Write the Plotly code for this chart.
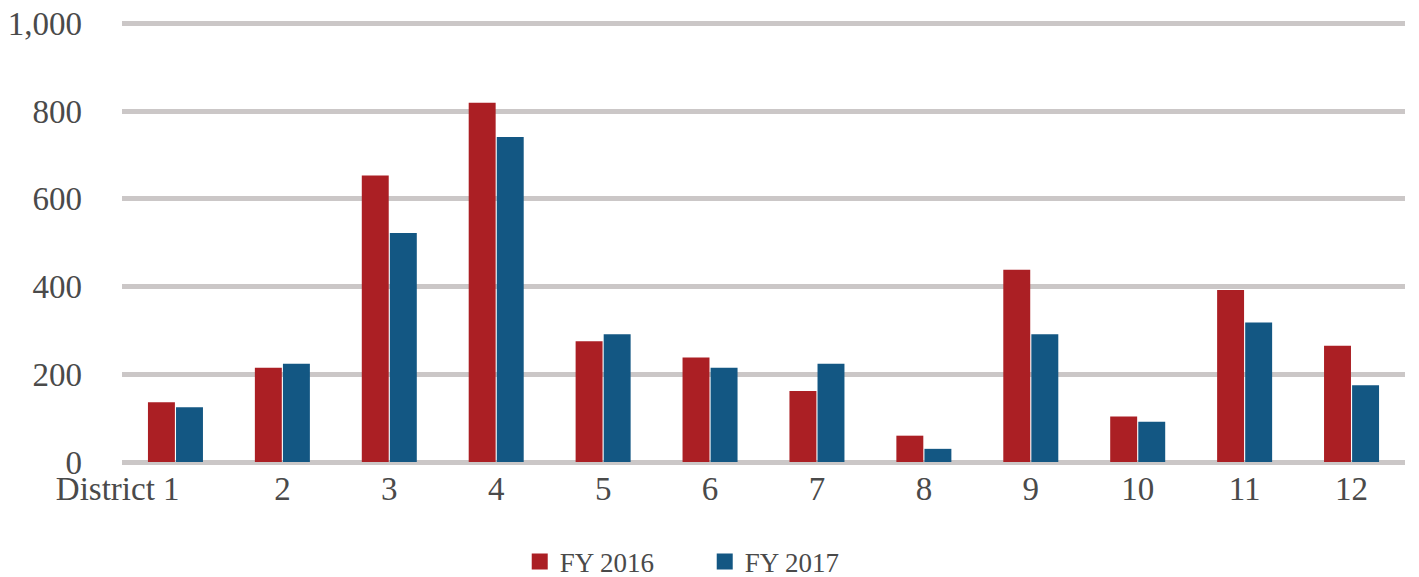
import plotly.graph_objects as go

# districts and yearly counts
districts = ["District 1", "2", "3", "4", "5", "6", "7", "8", "9", "10", "11", "12"]
fy2016 = [136, 215, 653, 819, 275, 238, 162, 60, 438, 104, 392, 265]
fy2017 = [125, 224, 522, 741, 291, 215, 224, 30, 291, 92, 318, 175]
yticks = [0, 200, 400, 600, 800, 1000]

font_fam = "Liberation Serif"
grid_col = "#CBC7C7"
red = "#AB1F24"
blue = "#135783"

# first label sits left of its category in the original, pad it with nbsp
ticktext = ["District 1" + "\u00a0" * 14] + districts[1:]

fig = go.Figure()
fig.add_trace(go.Bar(x=districts, y=fy2016, name="FY 2016", showlegend=False,
                     marker=dict(color=red, line=dict(width=0))))
fig.add_trace(go.Bar(x=districts, y=fy2017, name="FY 2017", showlegend=False,
                     marker=dict(color=blue, line=dict(width=0))))

# legend entries with bigger squares
for nm, col in [("FY 2016", red), ("FY 2017", blue)]:
    fig.add_trace(go.Scatter(x=[None], y=[None], mode="markers", name=nm,
                             marker=dict(symbol="square", size=21, color=col)))

# page body has an 8px margin, so margins are trimmed by 8
fig.update_layout(
    width=1419, height=577,
    margin=dict(l=114, r=22, t=14, b=123),
    plot_bgcolor="white", paper_bgcolor="white",
    barmode="group", bargap=0.475, bargroupgap=0.04,
    font=dict(family=font_fam, size=33, color="#4a4a4a"),
    showlegend=True,
    legend=dict(orientation="h", x=0.31, xanchor="left", y=0.04, yanchor="middle",
                yref="container", font=dict(size=27), itemwidth=30,
                entrywidth=140, entrywidthmode="pixels",
                traceorder="normal", itemsizing="trace"),
    xaxis=dict(showgrid=False, showline=False, ticks="", automargin=False, tickangle=0,
               tickvals=districts, ticktext=ticktext, ticklabelstandoff=4),
    yaxis=dict(range=[0, 1003], tickvals=yticks, tickformat=",d", automargin=False,
               showgrid=True, gridcolor=grid_col, gridwidth=5,
               zeroline=True, zerolinecolor=grid_col, zerolinewidth=5,
               showline=False, ticks="", ticklabelstandoff=39,
               ticklabeloverflow="allow"),
)

fig.write_html("out.html")
